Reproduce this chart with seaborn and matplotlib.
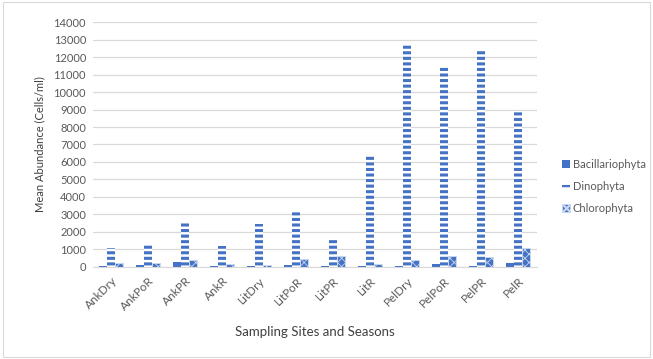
import matplotlib
matplotlib.use("Agg")
import matplotlib.pyplot as plt
import matplotlib.patches as mpatches
import seaborn as sns
import pandas as pd

sites = ["AnkDry", "AnkPoR", "AnkPR", "AnkR", "LitDry", "LitPoR",
         "LitPR", "LitR", "PelDry", "PelPoR", "PelPR", "PelR"]
bacillariophyta = [70, 80, 280, 30, 15, 80, 20, 15, 50, 130, 40, 200]
dinophyta = [1050, 1230, 2500, 1170, 2440, 3120, 1620, 6380, 12700, 11450, 12400, 8900]
chlorophyta = [220, 220, 400, 170, 90, 420, 600, 150, 380, 600, 560, 1060]
series_names = ["Bacillariophyta", "Dinophyta", "Chlorophyta"]

df = pd.DataFrame({
    "site": sites * 3,
    "group": [series_names[0]] * 12 + [series_names[1]] * 12 + [series_names[2]] * 12,
    "value": bacillariophyta + dinophyta + chlorophyta,
})

sns.set_style("white")
plt.rcParams["font.family"] = ["Lato", "DejaVu Sans"]
plt.rcParams["hatch.linewidth"] = 1.6

blue = "#4472C4"
fig = plt.figure(figsize=(6.53, 3.59), dpi=100)
ax = fig.add_axes([0.1424, 0.257, 0.6796, 0.681])

sns.barplot(data=df, x="site", y="value", hue="group", order=sites,
            hue_order=series_names, palette=[blue, blue, blue],
            width=0.65, ax=ax, legend=False, errorbar=None, saturation=1)

styles = [
    dict(facecolor=blue, edgecolor=blue, hatch=None, lw=0, hlw=1.0),
    dict(facecolor="white", edgecolor=blue, hatch="---", lw=0, hlw=2.2),
    dict(facecolor=blue, edgecolor="#c9d6ef", hatch="xxxx", lw=0.7, hlw=0.6),
]


def style_patch(p, st):
    p.set_facecolor(st["facecolor"])
    p.set_edgecolor(st["edgecolor"])
    p.set_linewidth(st["lw"])
    if st["hatch"]:
        p.set_hatch(st["hatch"])
        if hasattr(p, "set_hatch_linewidth"):
            p.set_hatch_linewidth(st["hlw"])


for cont, st in zip(ax.containers, styles):
    for bar in cont:
        style_patch(bar, st)

ax.set_ylim(0, 14000)
ax.set_yticks(range(0, 14001, 1000))
ax.yaxis.grid(True, color="#d9d9d9", lw=0.9)
ax.set_axisbelow(True)
for s in ["top", "right", "left"]:
    ax.spines[s].set_visible(False)
ax.spines["bottom"].set_color("#d9d9d9")
ax.tick_params(axis="y", length=0, labelsize=8, colors="#595959", pad=5)
ax.tick_params(axis="x", length=0, labelsize=8.5, colors="#595959", pad=6)
plt.setp(ax.get_xticklabels(), rotation=45, ha="right", rotation_mode="anchor")
ax.set_xlabel("Sampling Sites and Seasons", fontsize=9.5, color="#404040", labelpad=10)
ax.set_ylabel("Mean Abundance (Cells/ml)", fontsize=8, color="#404040", labelpad=6)

handles = []
for st, n in zip(styles, series_names):
    h = mpatches.Patch(label=n)
    style_patch(h, st)
    handles.append(h)
leg = fig.legend(handles=handles, loc="upper left", bbox_to_anchor=(0.845, 0.585),
                 frameon=False, fontsize=8, handlelength=0.7, handleheight=0.7,
                 handletextpad=0.3, labelspacing=1.0, labelcolor="#595959")

fig.patches.append(mpatches.Rectangle((0.004, 0.006), 0.992, 0.988, transform=fig.transFigure,
                                      fill=False, edgecolor="#d9d9d9", lw=0.8))
fig.savefig("out.png", dpi=100)
